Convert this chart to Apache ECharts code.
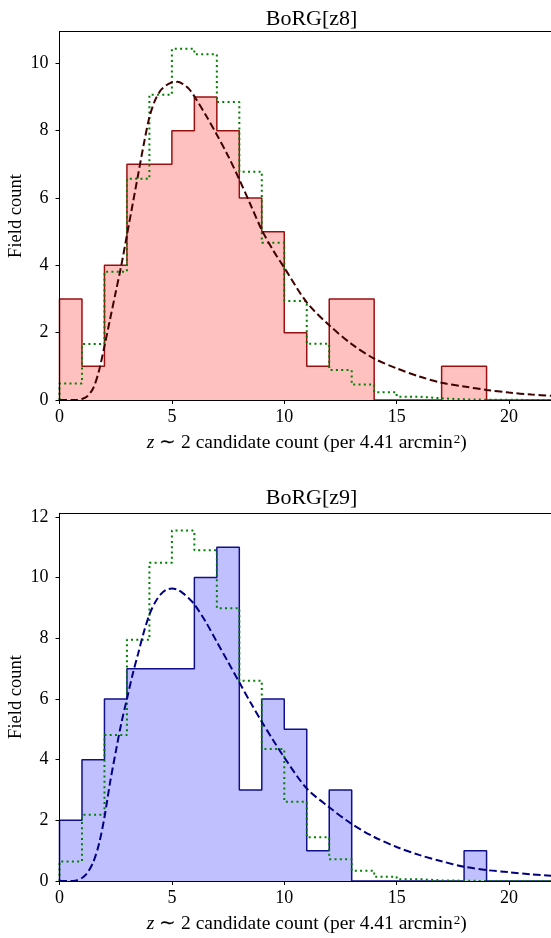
<!DOCTYPE html>
<html>
<head>
<meta charset="utf-8">
<script src="https://cdn.jsdelivr.net/npm/echarts@6/dist/echarts.min.js"></script>
<style>
  html, body { margin: 0; padding: 0; background: #fff; }
  #chart { width: 551px; height: 938px; }
</style>
</head>
<body>
<div id="chart"></div>
<script>
// bin edges of the histograms (unit bins)
const binEdges = [0, 1, 2, 3, 4, 5, 6, 7, 8, 9, 10, 11, 12, 13, 14, 15, 16, 17, 18, 19, 20, 21, 22];

// BoRG[z8] observed field counts and expected (green dotted) per bin
const z8Counts = [3, 1, 4, 7, 7, 8, 9, 8, 6, 5, 2, 1, 3, 3, 0, 0, 0, 1, 1, 0, 0, 0];
const z8Expected = [0.49, 1.66, 3.81, 6.57, 9.07, 10.43, 10.27, 8.85, 6.78, 4.67, 2.94, 1.67, 0.89, 0.46, 0.23, 0.10, 0.05, 0.02, 0.01, 0.01, 0, 0];

// BoRG[z9]
const z9Counts = [2, 4, 6, 7, 7, 7, 10, 11, 3, 6, 5, 1, 3, 0, 0, 0, 0, 0, 1, 0, 0, 0];
const z9Expected = [0.64, 2.18, 4.81, 7.95, 10.49, 11.55, 10.9, 8.99, 6.6, 4.35, 2.61, 1.44, 0.72, 0.34, 0.14, 0.06, 0.02, 0.01, 0, 0, 0, 0];

const curveX = [0, 0.5, 0.75, 1, 1.25, 1.5, 1.75, 2, 2.25, 2.5, 2.75, 3, 3.25, 3.5, 3.75, 4, 4.25, 4.5, 4.75, 5, 5.25, 5.5, 5.75, 6, 6.5, 7, 7.5, 8, 8.5, 9, 9.5, 10, 11, 12, 13, 14, 15, 16, 17, 18, 19, 20, 21, 22];
const z8Curve = [0, 0, 0, 0.03, 0.12, 0.35, 0.85, 1.6, 2.4, 3.2, 4.0, 4.9, 5.8, 6.7, 7.6, 8.4, 8.9, 9.2, 9.35, 9.43, 9.45, 9.38, 9.25, 9.02, 8.47, 7.88, 7.25, 6.55, 5.8, 5.05, 4.45, 3.93, 2.9, 2.22, 1.66, 1.23, 0.94, 0.7, 0.51, 0.4, 0.3, 0.22, 0.16, 0.12];
const z9Curve = [0, 0, 0.02, 0.1, 0.28, 0.62, 1.2, 2.1, 3.25, 4.25, 5.2, 6.0, 6.8, 7.5, 8.2, 8.78, 9.18, 9.45, 9.6, 9.64, 9.6, 9.48, 9.32, 9.12, 8.55, 7.88, 7.22, 6.55, 5.88, 5.25, 4.65, 4.07, 3.05, 2.43, 1.88, 1.45, 1.12, 0.86, 0.65, 0.47, 0.36, 0.29, 0.22, 0.17];

const xTicks = [0, 5, 10, 15, 20];
const z8YTicks = [0, 2, 4, 6, 8, 10];
const z9YTicks = [0, 2, 4, 6, 8, 10, 12];

const serif = 'Liberation Serif';

function stepData(counts) {
  let d = [[binEdges[0], 0]];
  counts.forEach((c, i) => d.push([binEdges[i], c]));
  d.push([binEdges[counts.length], 0]);
  return d;
}

function curveData(vals) {
  return curveX.map((x, i) => [x, vals[i]]);
}

function bottomAxis(grid) {
  return {
    type: 'value', gridIndex: grid, min: 0, max: 22, z: 5,
    name: '{i|z} \u223C 2 candidate count (per 4.41 arcmin{s|2})',
    nameLocation: 'middle', nameGap: 33,
    nameTextStyle: {
      fontFamily: serif, fontSize: 19.5, color: '#000',
      rich: {
        i: { fontFamily: serif, fontSize: 19.5, fontStyle: 'italic', color: '#000' },
        s: { fontFamily: serif, fontSize: 13, color: '#000', verticalAlign: 'top', padding: [0, 0, 7, 1] }
      }
    },
    axisLine: { show: true, lineStyle: { color: '#000', width: 1 } },
    axisTick: { show: true, length: 4, lineStyle: { color: '#000' }, customValues: xTicks },
    axisLabel: { fontFamily: serif, fontSize: 18, color: '#000', margin: 8, customValues: xTicks },
    splitLine: { show: false }
  };
}

function topSpine(grid) {
  return {
    type: 'value', gridIndex: grid, position: 'top', min: 0, max: 22, z: 5,
    axisLine: { show: true, lineStyle: { color: '#000', width: 1 } },
    axisTick: { show: false }, axisLabel: { show: false }, splitLine: { show: false }
  };
}

function leftAxis(grid, max, ticks) {
  return {
    type: 'value', gridIndex: grid, min: 0, max: max, z: 5,
    axisLine: { show: true, lineStyle: { color: '#000', width: 1 } },
    axisTick: { show: true, length: 4, lineStyle: { color: '#000' }, customValues: ticks },
    axisLabel: { fontFamily: serif, fontSize: 18, color: '#000', margin: 11, customValues: ticks },
    splitLine: { show: false }
  };
}

// rotated y-axis title, placed beside each plot
function yName(cy) {
  return {
    type: 'text', x: 16, y: cy, rotation: Math.PI / 2,
    style: {
      text: 'Field count', fill: '#000', align: 'center', verticalAlign: 'middle',
      font: '18.5px "Liberation Serif"'
    }
  };
}

function histSeries(idx, counts, fill, edge) {
  return {
    type: 'line', xAxisIndex: idx, yAxisIndex: idx, step: 'end', symbol: 'none',
    data: stepData(counts),
    lineStyle: { color: edge, width: 1.5 },
    areaStyle: { color: fill, opacity: 1, origin: 0 },
    z: 2
  };
}

function expectedSeries(idx, vals) {
  return {
    type: 'line', xAxisIndex: idx, yAxisIndex: idx, step: 'end', symbol: 'none',
    data: stepData(vals),
    lineStyle: { color: '#008000', width: 2, type: [2, 3.3] },
    z: 3
  };
}

function modelSeries(idx, vals, color) {
  return {
    type: 'line', xAxisIndex: idx, yAxisIndex: idx, symbol: 'none', smooth: 0.3,
    data: curveData(vals),
    lineStyle: { color: color, width: 2, type: [7.5, 3.5] },
    z: 4
  };
}

const chart = echarts.init(document.getElementById('chart'), null, { renderer: 'canvas' });

const option = {
  animation: false,
  backgroundColor: '#fff',
  title: [
    { text: 'BoRG[z8]', left: 306.6, top: 3, textAlign: 'center',
      textStyle: { fontFamily: serif, fontSize: 22, fontWeight: 'normal', color: '#000' } },
    { text: 'BoRG[z9]', left: 306.6, top: 482.5, textAlign: 'center',
      textStyle: { fontFamily: serif, fontSize: 22, fontWeight: 'normal', color: '#000' } }
  ],
  graphic: [yName(216), yName(697)],
  grid: [
    { left: 59.5, top: 31.7, width: 494.5, height: 368.3, outerBoundsMode: 'none', containLabel: false },
    { left: 59.5, top: 513.3, width: 494.5, height: 367.7, outerBoundsMode: 'none', containLabel: false }
  ],
  xAxis: [bottomAxis(0), bottomAxis(1), topSpine(0), topSpine(1)],
  yAxis: [leftAxis(0, 10.94, z8YTicks), leftAxis(1, 12.12, z9YTicks)],
  series: [
    histSeries(0, z8Counts, '#ffc0c0', '#9a1010'),
    expectedSeries(0, z8Expected),
    modelSeries(0, z8Curve, '#3f0000'),
    histSeries(1, z9Counts, '#c0c0ff', '#10108a'),
    expectedSeries(1, z9Expected),
    modelSeries(1, z9Curve, '#000080')
  ]
};

chart.setOption(option);
</script>
</body>
</html>
